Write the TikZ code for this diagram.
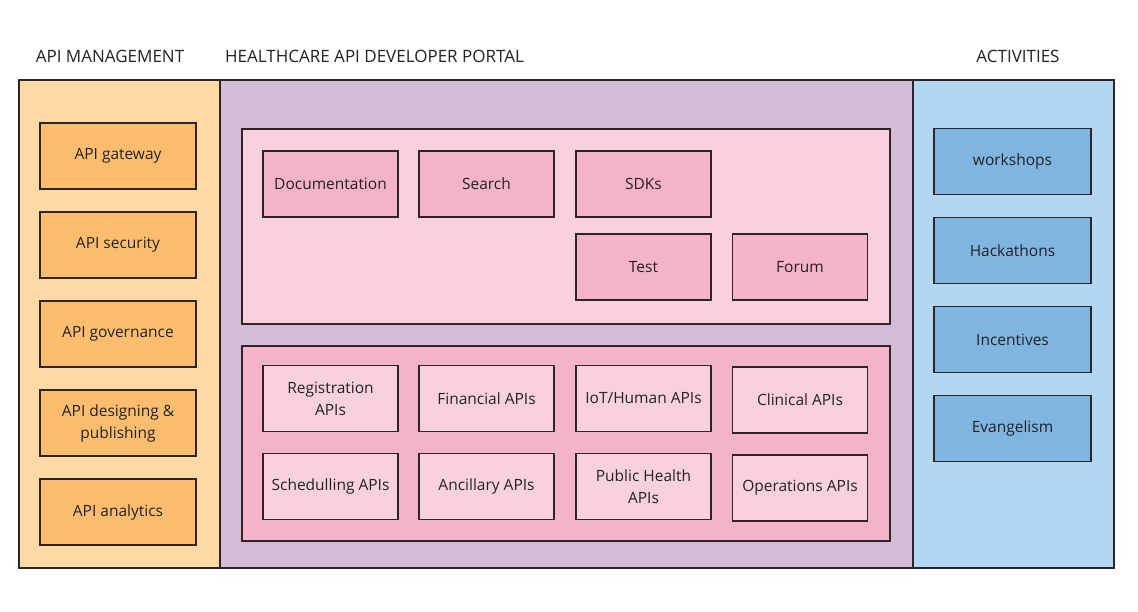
\documentclass[tikz,border=0pt]{standalone}
\usepackage{fontspec}
\setmainfont{Open Sans}
\definecolor{lbg}{HTML}{FDD9A6}
\definecolor{lbx}{HTML}{FCBE6E}
\definecolor{mbg}{HTML}{D3BDD6}
\definecolor{pink1}{HTML}{F8D1DD}
\definecolor{pink2}{HTML}{F4B3C6}
\definecolor{rbg}{HTML}{B4D7F1}
\definecolor{rbx}{HTML}{7FB5E1}
\definecolor{edge}{HTML}{2E2426}
\definecolor{txt}{HTML}{222222}
\begin{document}
\begin{tikzpicture}[x=1pt,y=-1pt,
  panel/.style={draw=edge,line width=1.6pt,inner sep=0pt,anchor=north west},
  box/.style={draw=edge,line width=1.4pt,minimum width=#1,minimum height=66pt,inner sep=2pt,align=center,text=txt,font=\fontsize{15.5}{22}\selectfont},
  box/.default=135pt,
  hdr/.style={font=\fontsize{17}{19}\selectfont,text=txt,inner sep=0pt}]
\useasboundingbox[fill=white] (0,0) rectangle (1138,612);
% panels
\node[panel,fill=lbg,minimum width=201pt,minimum height=488pt] (lp) at (18,79) {};
\node[panel,fill=mbg,minimum width=693pt,minimum height=488pt] (mp) at (219,79) {};
\node[panel,fill=rbg,minimum width=201pt,minimum height=488pt] (rp) at (912,79) {};
\node[panel,fill=pink1,minimum width=648pt,minimum height=195pt] (tp) at (241,128) {};
\node[panel,fill=pink2,minimum width=648pt,minimum height=195pt] (bp) at (241,345) {};
% headers
\node[hdr] (h1) at (110,56) {API MANAGEMENT};
\node[hdr,anchor=west] (h2) at (225,56) {HEALTHCARE API DEVELOPER PORTAL};
\node[hdr] (h3) at (1018,56) {ACTIVITIES};
% left
\node[box=156pt,fill=lbx] (g1) at (118,156) {API gateway};
\node[box=156pt,fill=lbx] (g2) at (118,245) {API security};
\node[box=156pt,fill=lbx] (g3) at (118,334) {API governance};
\node[box=156pt,fill=lbx] (g4) at (118,423) {API designing \&\\publishing};
\node[box=156pt,fill=lbx] (g5) at (118,512) {API analytics};
% top panel
\node[box,fill=pink2] (t1) at (330.5,184) {Documentation};
\node[box,fill=pink2] (t2) at (486.5,184) {Search};
\node[box,fill=pink2] (t3) at (643.5,184) {SDKs};
\node[box,fill=pink2] (t4) at (643.5,267) {Test};
\node[box,fill=pink2] (t5) at (800,267) {Forum};
% bottom panel
\node[box,fill=pink1] (b1) at (330.5,398.5) {Registration\\APIs};
\node[box,fill=pink1] (b2) at (486.5,398.5) {Financial APIs};
\node[box,fill=pink1] (b3) at (643.5,398.5) {IoT/Human APIs};
\node[box,fill=pink1] (b4) at (800,400) {Clinical APIs};
\node[box,fill=pink1] (b5) at (330.5,486.5) {Schedulling APIs};
\node[box,fill=pink1] (b6) at (486.5,486.5) {Ancillary APIs};
\node[box,fill=pink1] (b7) at (643.5,486.5) {Public Health\\APIs};
\node[box,fill=pink1] (b8) at (800,488) {Operations APIs};
% right
\node[box=157pt,fill=rbx] (r1) at (1012.5,161.5) {workshops};
\node[box=157pt,fill=rbx] (r2) at (1012.5,250.5) {Hackathons};
\node[box=157pt,fill=rbx] (r3) at (1012.5,339.5) {Incentives};
\node[box=157pt,fill=rbx] (r4) at (1012.5,428.5) {Evangelism};
\end{tikzpicture}
\end{document}
